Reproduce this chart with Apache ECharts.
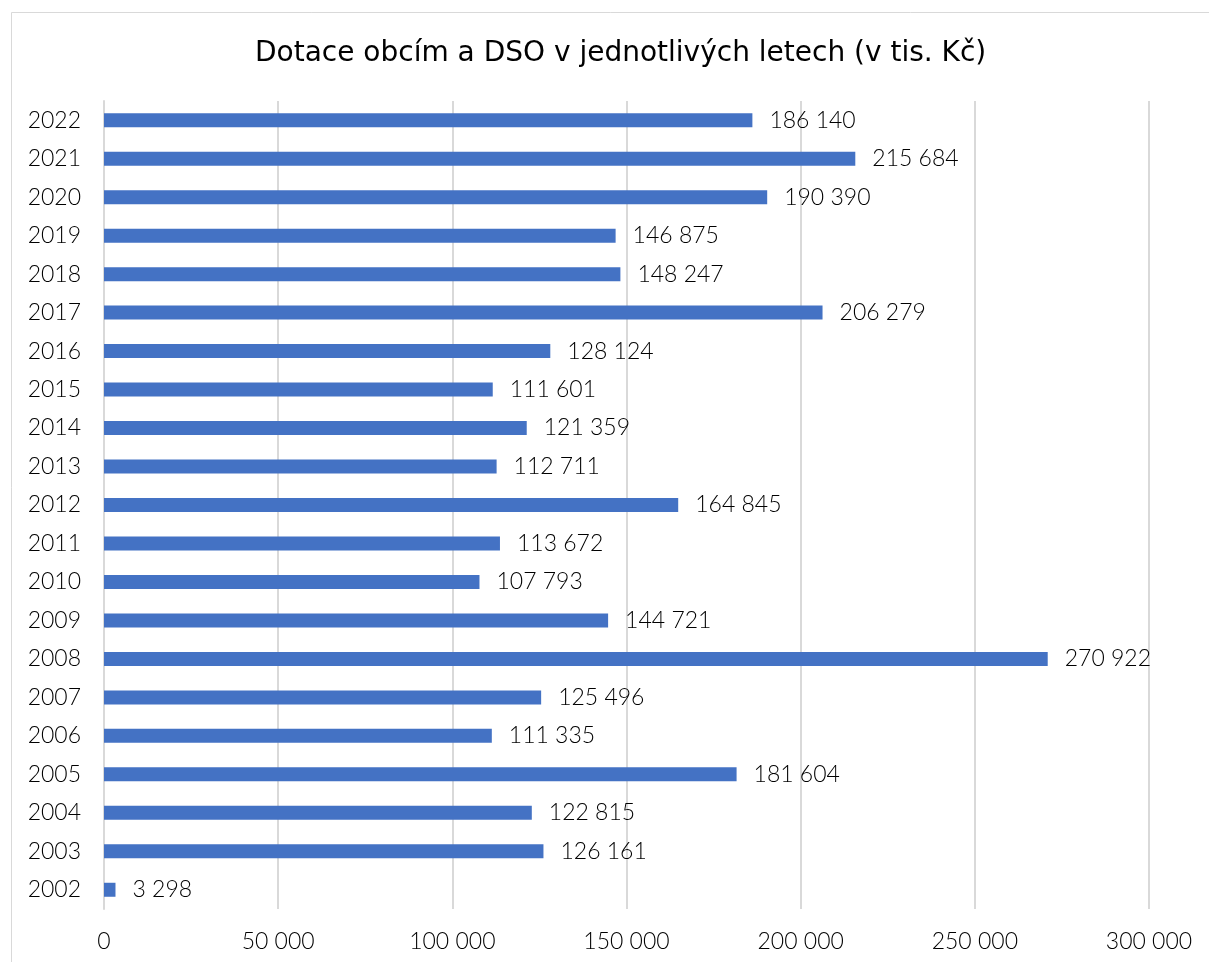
<!DOCTYPE html>
<html><head><meta charset="utf-8">
<script src="https://cdn.jsdelivr.net/npm/echarts@6/dist/echarts.min.js"></script>
<style>html,body{margin:0;padding:0;background:#fff}#c{width:1209px;height:962px}</style>
</head><body><div id="c"></div>
<script>
const years = ['2002','2003','2004','2005','2006','2007','2008','2009','2010','2011','2012','2013','2014','2015','2016','2017','2018','2019','2020','2021','2022'];
const values = [3298,126161,122815,181604,111335,125496,270922,144721,107793,113672,164845,112711,121359,111601,128124,206279,148247,146875,190390,215684,186140];
const xTicks = [0,50000,100000,150000,200000,250000,300000];
const titleText = 'Dotace obcím a DSO v jednotlivých letech (v tis. Kč)';
const FONT = 'Lato';
const TFONT = 'DejaVu Sans';
function fmt(v){return String(v).replace(/\B(?=(\d{3})+(?!\d))/g,' ');}
const chart = echarts.init(document.getElementById('c'), null, {renderer:'canvas'});
chart.setOption({
  animation:false,
  backgroundColor:'#fff',
  title:{text:titleText,left:250,top:35,textStyle:{fontFamily:TFONT,fontSize:28,fontWeight:'normal',color:'#000'}},
  graphic:[{type:'rect',shape:{x:11.5,y:12.5,width:1400,height:1200},style:{fill:'none',stroke:'#d9d9d9',lineWidth:1},silent:true}],
  grid:{left:104,right:60,top:101,bottom:53,containLabel:false},
  xAxis:{type:'value',min:xTicks[0],max:xTicks[xTicks.length-1],interval:50000,
    axisLine:{show:false},axisTick:{show:false},
    splitLine:{show:true,lineStyle:{color:'#d9d9d9',width:2}},
    axisLabel:{formatter:fmt,fontFamily:FONT,fontSize:23,fontWeight:300,color:'#000',margin:21}},
  yAxis:{type:'category',data:years,
    axisLine:{show:true,lineStyle:{color:'#d9d9d9',width:2}},axisTick:{show:false},
    axisLabel:{fontFamily:FONT,fontSize:23,fontWeight:300,color:'#000',margin:23}},
  series:[{type:'bar',data:values,barWidth:14,itemStyle:{color:'#4472C4'},
    label:{show:true,position:'right',distance:17,formatter:p=>fmt(p.value),fontFamily:FONT,fontSize:23,fontWeight:300,color:'#000'}}]
});
</script></body></html>
